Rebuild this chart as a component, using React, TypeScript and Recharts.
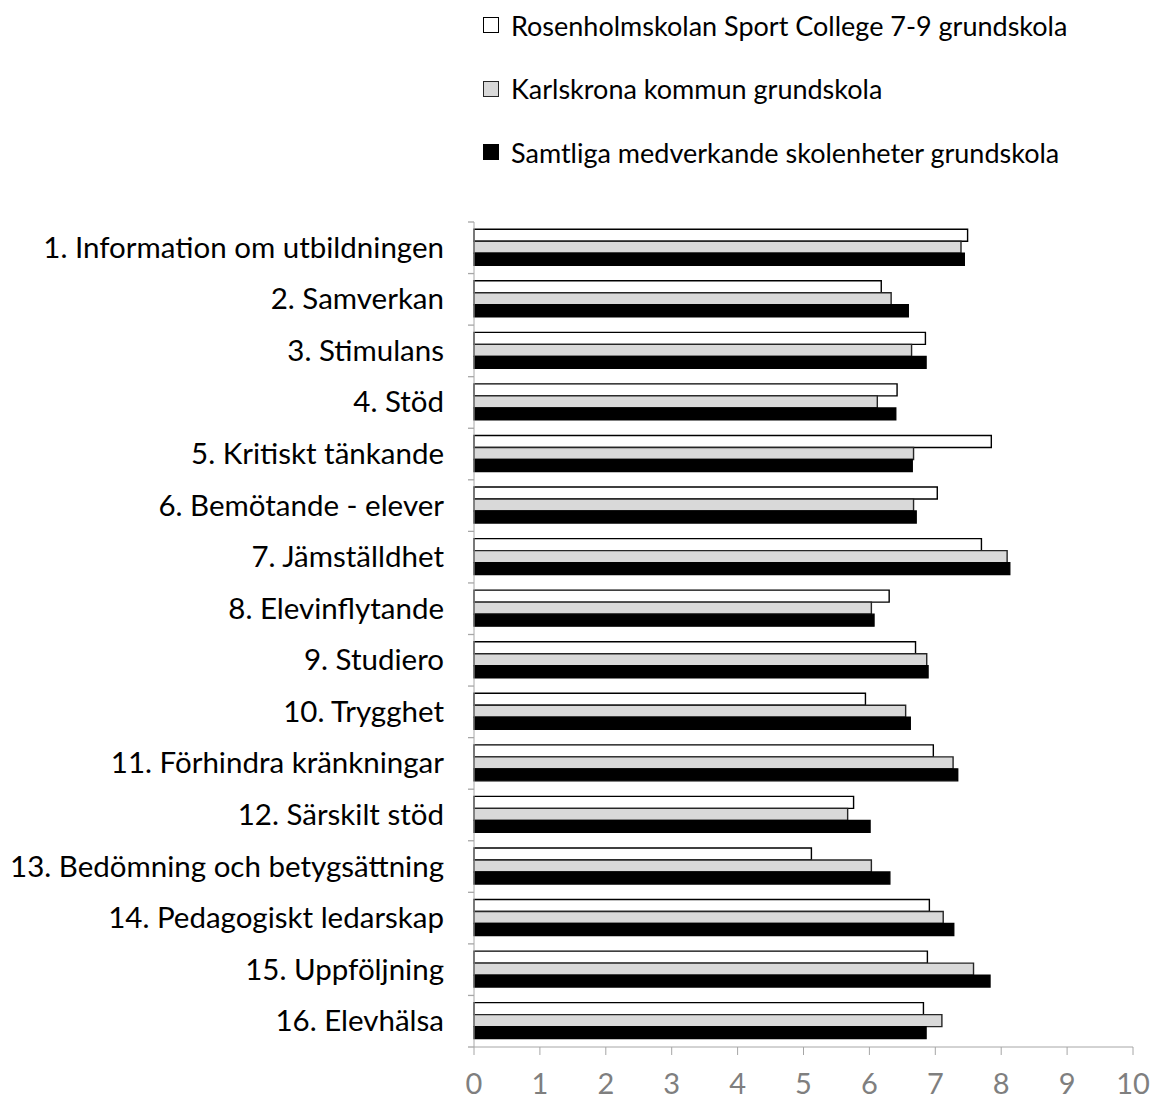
import React from 'react';
import { BarChart, Bar, XAxis, YAxis } from 'recharts';

const categories = [
    '1. Information om utbildningen',
    '2. Samverkan',
    '3. Stimulans',
    '4. Stöd',
    '5. Kritiskt tänkande',
    '6. Bemötande - elever',
    '7. Jämställdhet',
    '8. Elevinflytande',
    '9. Studiero',
    '10. Trygghet',
    '11. Förhindra kränkningar',
    '12. Särskilt stöd',
    '13. Bedömning och betygsättning',
    '14. Pedagogiskt ledarskap',
    '15. Uppföljning',
    '16. Elevhälsa',
];

const seriesNames = [
    'Rosenholmskolan Sport College 7-9 grundskola',
    'Karlskrona kommun grundskola',
    'Samtliga medverkande skolenheter grundskola',
];

const rosenholm = [7.49, 6.18, 6.85, 6.42, 7.85, 7.03, 7.7, 6.3, 6.7, 5.94, 6.97, 5.76, 5.12, 6.91, 6.88, 6.82];
const karlskrona = [7.39, 6.33, 6.64, 6.12, 6.67, 6.67, 8.09, 6.03, 6.87, 6.55, 7.27, 5.67, 6.03, 7.12, 7.58, 7.1];
const samtliga = [7.44, 6.59, 6.86, 6.4, 6.65, 6.71, 8.13, 6.07, 6.89, 6.62, 7.34, 6.01, 6.31, 7.28, 7.83, 6.86];

const xTicks = [0, 1, 2, 3, 4, 5, 6, 7, 8, 9, 10];

const FONT = 'Lato, "Open Sans", sans-serif';
const AXIS_GRAY = '#a6a6a6';
const WIDTH = 1160;
const HEIGHT = 1102;
const TOP = 222;
const BOTTOM_AXIS = 55;
const LEFT = 474;
const RIGHT = 27;
const LABEL_GAP = 30;

const styles = [
    { fill: '#ffffff', stroke: '#000000' },
    { fill: '#d9d9d9', stroke: '#262626' },
    { fill: '#000000', stroke: '#000000' },
];

const data = categories.map((name, i) => ({
    name,
    a: rosenholm[i],
    b: karlskrona[i],
    c: samtliga[i],
}));

const bandSize = (HEIGHT - TOP - BOTTOM_AXIS) / categories.length;

// category tick: label plus the Excel style boundary marks between categories
const CategoryTick = ({ x, y, payload, index }: any) => {
    const axisX = x + LABEL_GAP;
    const isLast = index === categories.length - 1;
    return (
        <g>
            <line x1={axisX - 6} x2={axisX} y1={y - bandSize / 2} y2={y - bandSize / 2} stroke={AXIS_GRAY} strokeWidth={1.3} />
            {isLast && (
                <line x1={axisX - 6} x2={axisX} y1={y + bandSize / 2} y2={y + bandSize / 2} stroke={AXIS_GRAY} strokeWidth={1.3} />
            )}
            <text x={x} y={y} dy="0.34em" textAnchor="end" fill="#000" fontSize={29.5} fontFamily={FONT}>
                {payload.value}
            </text>
        </g>
    );
};

// legend drawn as plain html so it does not steal room from the plot
const LegendBox = () => (
    <div style={{ position: 'absolute', left: 483, top: 8, fontFamily: FONT, fontSize: 27, color: '#000' }}>
        {seriesNames.map((n, i) => (
            <div key={n} style={{ display: 'flex', alignItems: 'center', height: 34, marginBottom: i < 2 ? 29.5 : 0, whiteSpace: 'nowrap' }}>
                <span
                    style={{
                        display: 'inline-block',
                        width: 14,
                        height: 14,
                        background: styles[i].fill,
                        border: `1.3px solid ${styles[i].stroke}`,
                        marginRight: 12,
                    }}
                />
                <span>{n}</span>
            </div>
        ))}
    </div>
);

export default function App() {
    return (
        <div style={{ position: 'absolute', left: 0, top: 0, width: WIDTH, height: HEIGHT, background: '#fff' }}>
            <BarChart
                width={WIDTH}
                height={HEIGHT}
                data={data}
                layout="vertical"
                margin={{ top: TOP, right: RIGHT, left: 0, bottom: 0 }}
                barCategoryGap="14%"
                barGap={0}
            >
                <XAxis
                    type="number"
                    domain={[0, 10]}
                    ticks={xTicks}
                    interval={0}
                    height={BOTTOM_AXIS}
                    stroke={AXIS_GRAY}
                    tickSize={8}
                    tickMargin={18}
                    tick={{ fill: '#7f7f7f', fontSize: 29, fontFamily: FONT }}
                />
                <YAxis
                    type="category"
                    dataKey="name"
                    width={LEFT}
                    interval={0}
                    stroke={AXIS_GRAY}
                    tickLine={false}
                    tickSize={0}
                    tickMargin={LABEL_GAP}
                    tick={<CategoryTick />}
                />
                <Bar dataKey="a" name={seriesNames[0]} fill={styles[0].fill} stroke={styles[0].stroke} strokeWidth={1.4} isAnimationActive={false} />
                <Bar dataKey="b" name={seriesNames[1]} fill={styles[1].fill} stroke={styles[1].stroke} strokeWidth={1.4} isAnimationActive={false} />
                <Bar dataKey="c" name={seriesNames[2]} fill={styles[2].fill} stroke={styles[2].stroke} strokeWidth={1.4} isAnimationActive={false} />
            </BarChart>
            <LegendBox />
        </div>
    );
}
